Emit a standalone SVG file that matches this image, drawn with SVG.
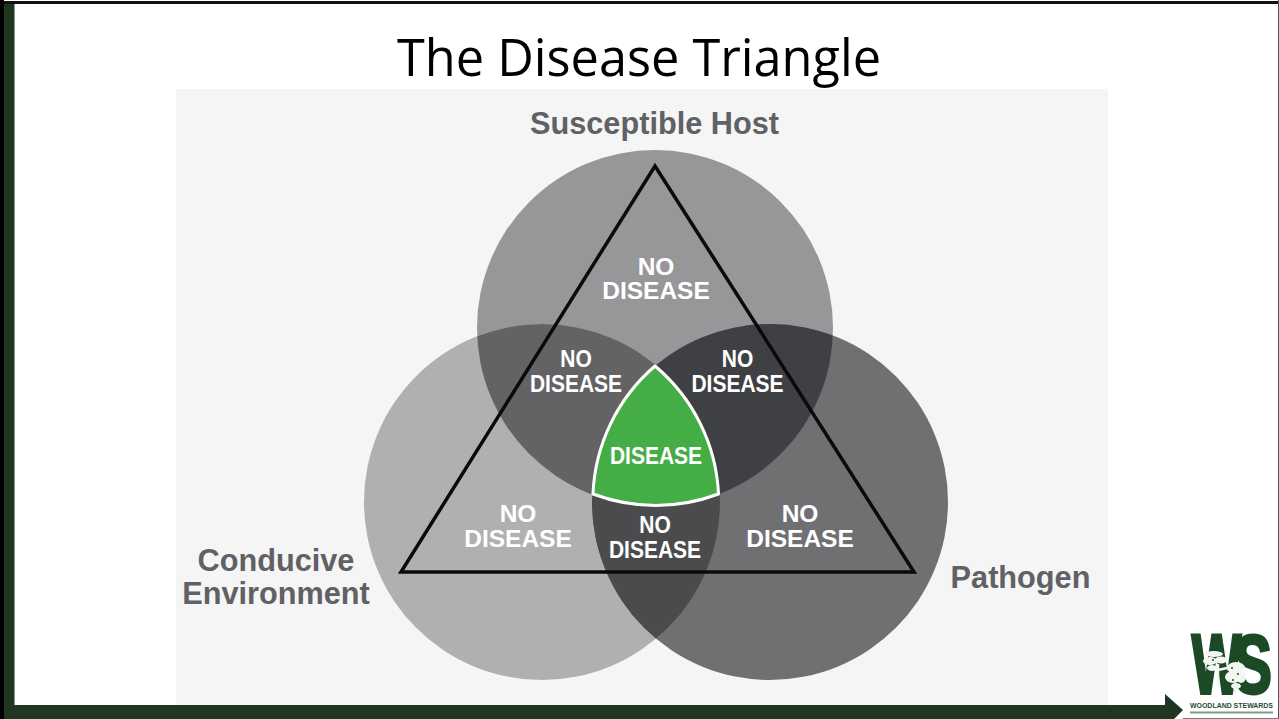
<svg xmlns="http://www.w3.org/2000/svg" width="1279" height="719" viewBox="0 0 1279 719">
<style>
.lb{font-family:"Liberation Sans",Arial,sans-serif;font-weight:700;fill:#fff;font-size:24.500px;text-anchor:middle}
.sm{font-size:24px}
.hd{font-family:"Liberation Sans",Arial,sans-serif;font-weight:700;fill:#606165;font-size:30.700px;text-anchor:middle}
.ws{font-family:"Liberation Sans",Arial,sans-serif;font-weight:700;font-size:84px;fill:#1c4a26;stroke:#1c4a26;stroke-linejoin:miter}
</style>
<defs>
<circle id="ct" cx="655" cy="328" r="178"/>
<circle id="cl" cx="542" cy="502" r="178"/>
<circle id="cr" cx="770" cy="502" r="178"/>
<clipPath id="clipT"><use href="#ct"/></clipPath>
<clipPath id="clipL"><use href="#cl"/></clipPath>
<clipPath id="clipR"><use href="#cr"/></clipPath>
<clipPath id="clipTL" clip-path="url(#clipT)"><use href="#cl"/></clipPath>
<filter id="soft" x="-5%" y="-5%" width="110%" height="110%"><feGaussianBlur stdDeviation="0.5"/></filter>
</defs>
<rect width="1279" height="719" fill="#fff"/>
<g id="frame">
<rect x="0" y="1" width="1279" height="3" fill="#111"/>
<rect x="0" y="0" width="4" height="719" fill="#000"/>
<rect x="4" y="4" width="10.500" height="715" fill="#1f3720"/>
<rect x="1278" y="0" width="1" height="719" fill="#555"/>
<rect x="1183" y="718" width="96" height="1" fill="#777"/>
<polygon points="4,705 1165,705 1165,694 1183,710 1174,719 4,719" fill="#1f3720"/>
</g>
<text id="title" x="639" y="76" text-anchor="middle" font-family="'Open Sans','Noto Sans',sans-serif" font-size="50.500" fill="#000" textLength="484" lengthAdjust="spacingAndGlyphs">The Disease Triangle</text>
<rect id="panel" x="176" y="89" width="932" height="616" fill="#f5f5f5"/>
<g id="venn">
<use id="circle-host" href="#ct" fill="#97979a"/>
<use id="circle-env" href="#cl" fill="#b0b0b0"/>
<use id="circle-path" href="#cr" fill="#707073"/>
<g clip-path="url(#clipT)"><use href="#cl" fill="#636366"/><use href="#cr" fill="#3f4043"/></g>
<g clip-path="url(#clipL)"><use href="#cr" fill="#4b4b4e"/></g>
<g id="disease-zone"><g clip-path="url(#clipTL)"><use href="#cr" fill="#45ad45"/></g>
<path d="M655 366 A178 178 0 0 1 718.500 494 A178 178 0 0 1 593 494 A178 178 0 0 1 655 366 Z" fill="none" stroke="#fff" stroke-width="3" stroke-linejoin="round"/></g>
</g>
<g id="connectors"><polygon points="655,166 914,572 401,572" fill="none" stroke="#0a0a0a" stroke-width="3.500" stroke-linejoin="miter"/></g>
<g id="node-host"><text class="hd" x="654.500" y="134">Susceptible Host</text>
<text class="lb" x="656" y="275">NO<tspan x="656" y="299">DISEASE</tspan></text></g>
<g id="node-tl"><text class="lb sm" transform="translate(576 0) scale(.875 1)" x="0" y="367">NO<tspan x="0" y="392">DISEASE</tspan></text></g>
<g id="node-tr"><text class="lb sm" transform="translate(737.500 0) scale(.875 1)" x="0" y="367">NO<tspan x="0" y="392">DISEASE</tspan></text></g>
<g id="node-disease"><text class="lb sm" transform="translate(656 0) scale(.875 1)" x="0" y="464.500">DISEASE</text></g>
<g id="node-env"><text class="hd" x="276" y="571">Conducive<tspan x="276" y="604">Environment</tspan></text>
<text class="lb" x="518" y="522">NO<tspan x="518" y="546.500">DISEASE</tspan></text></g>
<g id="node-bottom"><text class="lb sm" transform="translate(655 0) scale(.875 1)" x="0" y="533.500">NO<tspan x="0" y="558">DISEASE</tspan></text></g>
<g id="node-path"><text class="hd" x="1020.500" y="588">Pathogen</text>
<text class="lb" x="800" y="522">NO<tspan x="800" y="546.500">DISEASE</tspan></text></g>
<g id="logo">
<text class="ws" x="1192" y="693" stroke-width="4" textLength="49" lengthAdjust="spacingAndGlyphs">W</text>
<text class="ws" x="1234" y="693" stroke-width="3" textLength="38" lengthAdjust="spacingAndGlyphs">S</text>
<g filter="url(#soft)"><g fill="#f4f6f2"><ellipse cx="1214" cy="654" rx="9" ry="3"/><ellipse cx="1210" cy="661" rx="7" ry="4"/><ellipse cx="1221" cy="660" rx="6" ry="3.500"/><ellipse cx="1212" cy="668" rx="5" ry="3"/><ellipse cx="1236" cy="668" rx="9" ry="6"/><ellipse cx="1233" cy="677" rx="8" ry="6"/><ellipse cx="1241" cy="677" rx="5" ry="6"/><ellipse cx="1236" cy="686" rx="5" ry="3"/></g><path d="M1218 664 L1218 686 M1235 684 L1235 693 M1218 670 L1227 668" stroke="#f4f6f2" stroke-width="2.500" fill="none"/><g fill="#1c4a26"><circle cx="1232" cy="668" r="1"/><circle cx="1238" cy="674" r="1"/><circle cx="1233" cy="680" r="1"/><circle cx="1213" cy="660" r="1"/></g></g>
<text x="1231.500" y="708" text-anchor="middle" font-family="'Liberation Sans',sans-serif" font-weight="700" font-size="6.500" fill="#2a4a30" textLength="83" lengthAdjust="spacingAndGlyphs">WOODLAND STEWARDS</text>
<rect x="1190" y="711.500" width="83" height="2" fill="#7f9a84"/>
</g>
</svg>
